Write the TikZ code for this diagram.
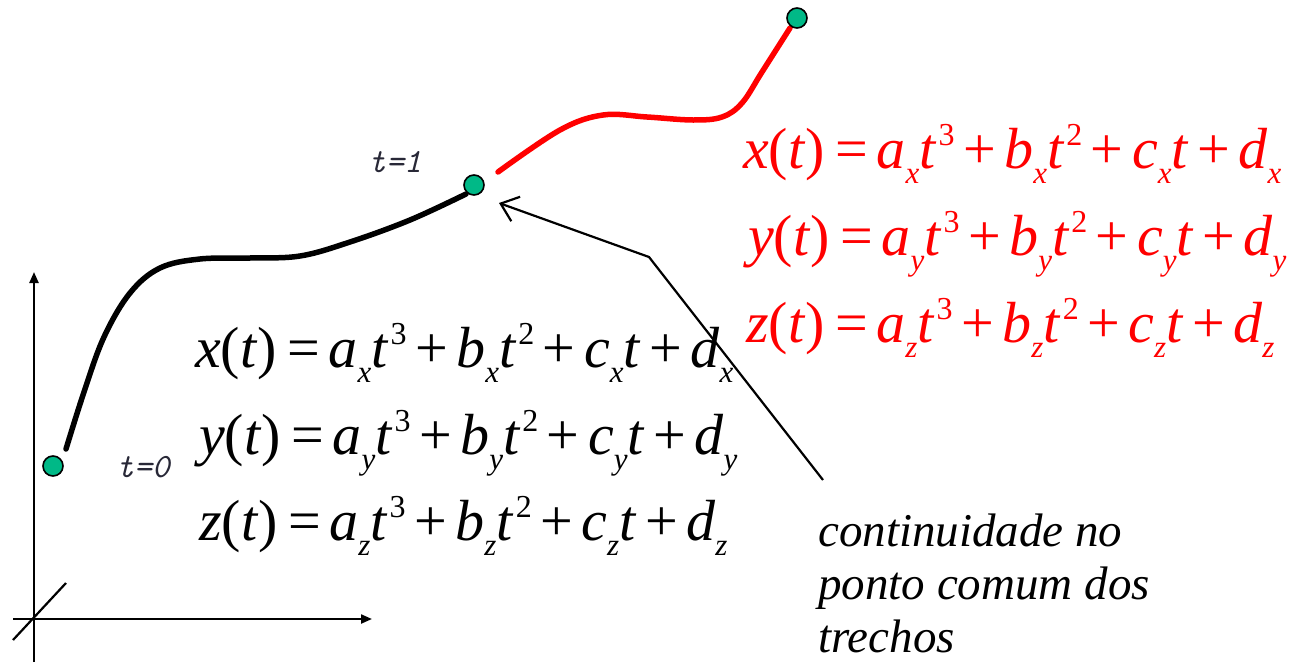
\documentclass[tikz,border=0pt]{standalone}
\usepackage{fontspec}
\setmainfont{Liberation Serif}
\newfontfamily\notefont{Liberation Serif}
\usetikzlibrary{arrows.meta}
\definecolor{dotgreen}{RGB}{0,185,135}
\definecolor{tlabel}{RGB}{40,40,55}
\newcommand\sbs[1]{\raisebox{-15pt}{\fontsize{31}{31}\selectfont\itshape #1}}
\newcommand\sps[1]{\hspace{2pt}\raisebox{23pt}{\fontsize{32}{32}\selectfont #1}}
\newcommand\opr[1]{\hspace{8.5pt}#1\hspace{8.5pt}}
\newcommand\eqline[1]{\textit{#1}(\textit{t})\hspace{2pt}\opr{=}\textit{a}\sbs{#1}\textit{t}\sps{3}\opr{+}\textit{b}\sbs{#1}\textit{t}\sps{2}\opr{+}\textit{c}\sbs{#1}\textit{t}\opr{+}\textit{d}\sbs{#1}}
\begin{document}
\begin{tikzpicture}[x=1pt,y=-1pt,
  eq/.style={inner sep=0pt, anchor=base west, font=\fontsize{58}{58}\selectfont},
  tlab/.style={inner sep=0pt, text=tlabel, font=\ttfamily\itshape\fontsize{34}{34}\selectfont},
  dot/.style={circle, draw=black, line width=1.6pt, fill=dotgreen, minimum size=20pt, inner sep=0pt},
  curve/.style={line width=5.5pt, line cap=round},
  axis/.style={line width=2.2pt, -{Triangle[length=11pt,width=9pt]}}]
\useasboundingbox (0,0) rectangle (1298,664);
% axes
\coordinate (o1) at (34,662);
\coordinate (o2) at (34,272);
\coordinate (h1) at (13,619);
\coordinate (h2) at (372,619);
\coordinate (d1) at (13,640);
\coordinate (d2) at (66,583);
\draw[axis] (o1) -- (o2);
\draw[axis] (h1) -- (h2);
\draw[line width=2.2pt] (d1) -- (d2);
% curves
\draw[curve, black] plot[smooth, tension=0.6] coordinates {(66,449) (84,392) (104,337) (130,293) (160,268) (200,259) (250,258) (300,256) (350,242) (410,220) (466,194)};
\draw[curve, red] plot[smooth, tension=0.6] coordinates {(498,172) (560,130) (603,115) (647,117) (693,120) (722,117) (742,103) (762,72) (790,28)};
% dots
\node[dot] (p0) at (53,466) {};
\node[dot] (p1) at (474,185) {};
\node[dot] (p2) at (797,18) {};
% labels
\node[tlab] (t1) at (395,162) {t=1};
\node[tlab] (t0) at (143,467) {t=0};
% black equations
\node[eq] (bx) at (195,367) {\eqline{x}};
\node[eq] (by) at (199,454) {\eqline{y}};
\node[eq] (bz) at (199,540) {\eqline{z}};
% red equations
\node[eq, text=red] (rx) at (743,168) {\eqline{x}};
\node[eq, text=red] (ry) at (748,255) {\eqline{y}};
\node[eq, text=red] (rz) at (746,342) {\eqline{z}};
% note
\node[inner sep=0pt, anchor=base west, align=left, font=\notefont\itshape\fontsize{47}{53}\selectfont] (note) at (818,652) {continuidade no\\ponto comum dos\\trechos};
\coordinate (a0) at (823,480);
\coordinate (a1) at (649,257);
\coordinate (a2) at (499,203);
\draw[line width=2.2pt, -{Straight Barb[length=16pt,width=26pt]}] (a0) -- (a1) -- (a2);
\end{tikzpicture}
\end{document}
